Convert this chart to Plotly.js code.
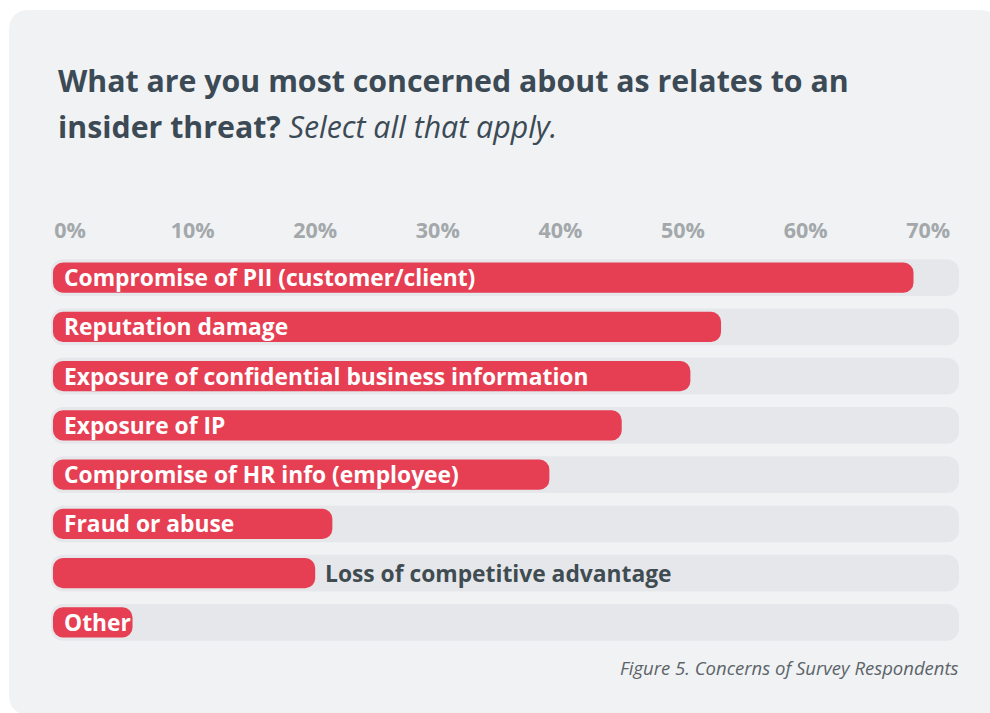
<!DOCTYPE html>
<html>
<head>
<meta charset="utf-8">
<script src="https://cdn.plot.ly/plotly-3.0.1.min.js"></script>
<style>html,body{margin:0;padding:0;background:#ffffff;}#chart{width:990px;height:713px;}</style>
</head>
<body>
<div id="chart"></div>
<script>
// ---- data ----
const categories = [
  "Compromise of PII (customer/client)",
  "Reputation damage",
  "Exposure of confidential business information",
  "Exposure of IP",
  "Compromise of HR info (employee)",
  "Fraud or abuse",
  "Loss of competitive advantage",
  "Other"
];
const values = [68.8, 53.1, 50.6, 45.0, 39.1, 21.4, 20.0, 5.1];
const tickValues = [0, 10, 20, 30, 40, 50, 60, 70];
const tickLabels = ["0%", "10%", "20%", "30%", "40%", "50%", "60%", "70%"];
const labelPlacement = ["inside","inside","inside","inside","inside","inside","outside","inside"];

// ---- style ----
const W = 990, H = 713;
const M = {l: 51, r: 31, t: 253, b: 66};
const X_MIN = -1.55, X_MAX = 72.51;   // axis range (track extent)
const BAR_START = -1.39;                // rounded cap starts slightly left of 0
const RED = "#e63f53", TRACK = "#e6e7ea", CARD = "#f1f2f4";
const FONT = "Open Sans, Noto Sans, sans-serif";

const track = {
  type: "bar", orientation: "h",
  y: categories,
  x: categories.map(() => X_MAX - X_MIN),
  base: X_MIN,
  width: 0.75,
  marker: {color: TRACK, cornerradius: 12, line: {width: 0}},
  hoverinfo: "skip", showlegend: false
};
const bars = {
  type: "bar", orientation: "h",
  y: categories,
  x: values.map(v => v - BAR_START),
  base: BAR_START,
  width: 0.61,
  marker: {color: RED, cornerradius: 10, line: {width: 0}},
  hoverinfo: "skip", showlegend: false
};

const annotations = categories.map((c, i) => {
  const inside = labelPlacement[i] === "inside";
  return {
    xref: "x", yref: "y",
    x: inside ? 0 : values[i],
    y: c,
    xanchor: "left", yanchor: "middle",
    xshift: inside ? -8 : 8,
    yshift: 0,
    text: c,
    showarrow: false,
    font: {family: FONT, size: 22.8, color: inside ? "#ffffff" : "#3f4c52", weight: 700}
  };
});
annotations.push({
  xref: "paper", yref: "paper", x: 1, y: 0,
  xanchor: "right", yanchor: "top", yshift: -6, xshift: 2,
  text: "<i>Figure 5. Concerns of Survey Respondents</i>",
  showarrow: false,
  font: {family: FONT, size: 18.5, color: "#5c6469"}
});

// card shape (paper coords)
const pw = W - M.l - M.r, ph = H - M.t - M.b;
const px = v => (v - M.l) / pw;
const py = v => (H - M.b - v) / ph;
const cL = 9, cT = 10, cR = 1000, cB = 715, cr = 21;
const cardPath = [
  "M", px(cL + cr), py(cT),
  "L", px(cR - cr), py(cT),
  "Q", px(cR), py(cT), px(cR), py(cT + cr),
  "L", px(cR), py(cB - cr),
  "Q", px(cR), py(cB), px(cR - cr), py(cB),
  "L", px(cL + cr), py(cB),
  "Q", px(cL), py(cB), px(cL), py(cB - cr),
  "L", px(cL), py(cT + cr),
  "Q", px(cL), py(cT), px(cL + cr), py(cT), "Z"
].map(t => typeof t === "number" ? t.toFixed(5) : t).join(" ")
 .replace(/ (-?[\d.]+) (-?[\d.]+)/g, " $1,$2");

const layout = {
  width: W, height: H,
  margin: M,
  paper_bgcolor: "#ffffff",
  plot_bgcolor: "rgba(0,0,0,0)",
  barmode: "overlay",
  showlegend: false,
  title: {
    text: "<span style='font-size:30.3px'><b>What are you most concerned about as relates to an</b></span>" +
          "<br><span style='font-size:30.3px'><b>insider threat?</b> <i>Select all that apply.</i></span>",
    font: {family: FONT, size: 35.4, color: "#3b4a55"},
    xref: "container", yref: "container",
    x: 58 / W, xanchor: "left",
    y: 1 - 92 / H, yanchor: "top"
  },
  xaxis: {
    side: "top",
    range: [X_MIN, X_MAX],
    tickvals: tickValues,
    ticktext: tickLabels,
    showgrid: false, zeroline: false, showline: false,
    ticks: "",
    ticklabelstandoff: 10,
    tickfont: {family: FONT, size: 21.5, color: "#a3a8ab", weight: 700},
    fixedrange: true
  },
  yaxis: {
    type: "category",
    categoryorder: "array", categoryarray: categories,
    range: [7.5, -0.5],
    showticklabels: false, showgrid: false, zeroline: false, showline: false,
    ticks: "", fixedrange: true
  },
  annotations: annotations,
  shapes: [{
    type: "path", xref: "paper", yref: "paper", layer: "below",
    path: cardPath,
    fillcolor: CARD, line: {width: 0}
  }]
};

Plotly.newPlot("chart", [track, bars], layout, {displayModeBar: false, staticPlot: true});
</script>
</body>
</html>
